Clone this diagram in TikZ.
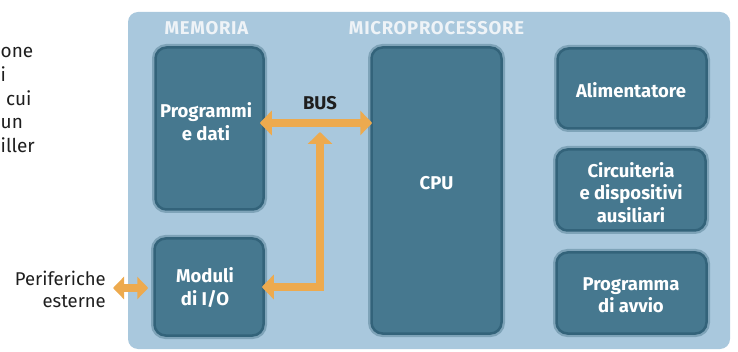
\documentclass[tikz,border=0pt]{standalone}
\usepackage{fontspec}
\setmainfont{Fira Sans}
\newfontfamily\headfont[LetterSpace=4]{Fira Sans}
\usetikzlibrary{arrows.meta,calc}
\definecolor{panel}{HTML}{A9C8DD}
\definecolor{boxin}{HTML}{46788F}
\definecolor{boxedge}{HTML}{33637A}
\definecolor{boxhalo}{HTML}{7EA3B8}
\definecolor{busc}{HTML}{EDAA4E}
\definecolor{ink}{HTML}{1E1E1E}
\definecolor{head}{HTML}{EEF3F7}
\tikzset{
  tipA/.tip={Triangle[width=24pt,length=12pt]},
  tipB/.tip={Triangle[width=22pt,length=11pt]}
}
\begin{document}
\begin{tikzpicture}[x=1pt,y=-1pt,
  blk/.style={rounded corners=11pt, fill=boxin, draw=boxedge, line width=2.5pt,
    preaction={draw=boxhalo, line width=7pt}, inner sep=0pt},
  blktxt/.style={text=white, align=center, font=\fontsize{18.5}{22.5}\selectfont\bfseries},
  headtxt/.style={text=head, font=\headfont\fontsize{18.5}{20}\selectfont\bfseries},
  sidetxt/.style={text=ink, font=\fontsize{18.5}{21.5}\selectfont, inner sep=0pt},
  cuttxt/.style={text=ink, font=\fontsize{19}{22}\selectfont, inner sep=0pt, anchor=base west},
  busline/.style={draw=busc, line width=8pt}
]
\useasboundingbox (0,0) rectangle (738,352);
% cut-off text on the left
\node[cuttxt] (c1) at (0.5,58) {one};
\node[cuttxt] (c2) at (0.5,82) {i};
\node[cuttxt] (c3) at (6,105.5) {cui};
\node[cuttxt] (c4) at (0.5,129) {un};
\node[cuttxt] (c5) at (0.5,152.5) {iller};
% panel
\node[draw=none, fill=panel, rounded corners=10pt, minimum width=602pt, minimum height=337pt, inner sep=0pt] (panel) at (429,180.5) {};
\node[headtxt] (hmem) at (206.5,28) {MEMORIA};
\node[headtxt] (hmic) at (436.5,28) {MICROPROCESSORE};
% blocks
\node[blk, minimum width=108pt, minimum height=162pt] (prog) at (209.5,128.5) {};
\node[blk, minimum width=109pt, minimum height=97pt] (io) at (209,287) {};
\node[blk, minimum width=130pt, minimum height=286pt] (cpu) at (436.5,190.5) {};
\node[blk, minimum width=149pt, minimum height=80pt] (alim) at (632,88.5) {};
\node[blk, minimum width=149pt, minimum height=81pt] (circ) at (631,190) {};
\node[blk, minimum width=150pt, minimum height=81pt] (avvio) at (631.5,293) {};
% block texts
\node[blktxt] (progT) at (206,121.5) {Programmi\\e dati};
\node[blktxt] (ioT) at (205,287.5) {Moduli\\di I/O};
\node[blktxt] (cpuT) at (436.5,183) {CPU};
\node[blktxt] (alimT) at (631,90) {Alimentatore};
\node[blktxt] (circT) at (631,192.5) {Circuiteria\\e dispositivi\\ausiliari};
\node[blktxt] (avvioT) at (631,295) {Programma\\di avvio};
% bus
\coordinate (busL) at (prog.east |- 0,123);
\coordinate (busR) at (cpu.west |- 0,123);
\coordinate (busJ) at (320,123);
\coordinate (ioE) at (io.east |- 0,287);
\coordinate (perif) at (113,288);
\draw[busline, tipA-tipA, shorten <=-5pt, shorten >=-2pt] (busL) -- (busR);
\node[text=ink, font=\fontsize{18.5}{20}\selectfont\bfseries] (busT) at (320,103) {BUS};
\draw[busline, line join=miter, tipA-tipA, shorten <=-3pt, shorten >=9pt] (ioE) -| (busJ);
\draw[busline, tipB-tipB, shorten >=5pt] (perif) -- (io.west |- perif);
\node[sidetxt, align=right, anchor=east] (perT) at (106,289.5) {Periferiche\\esterne};
\end{tikzpicture}
\end{document}
